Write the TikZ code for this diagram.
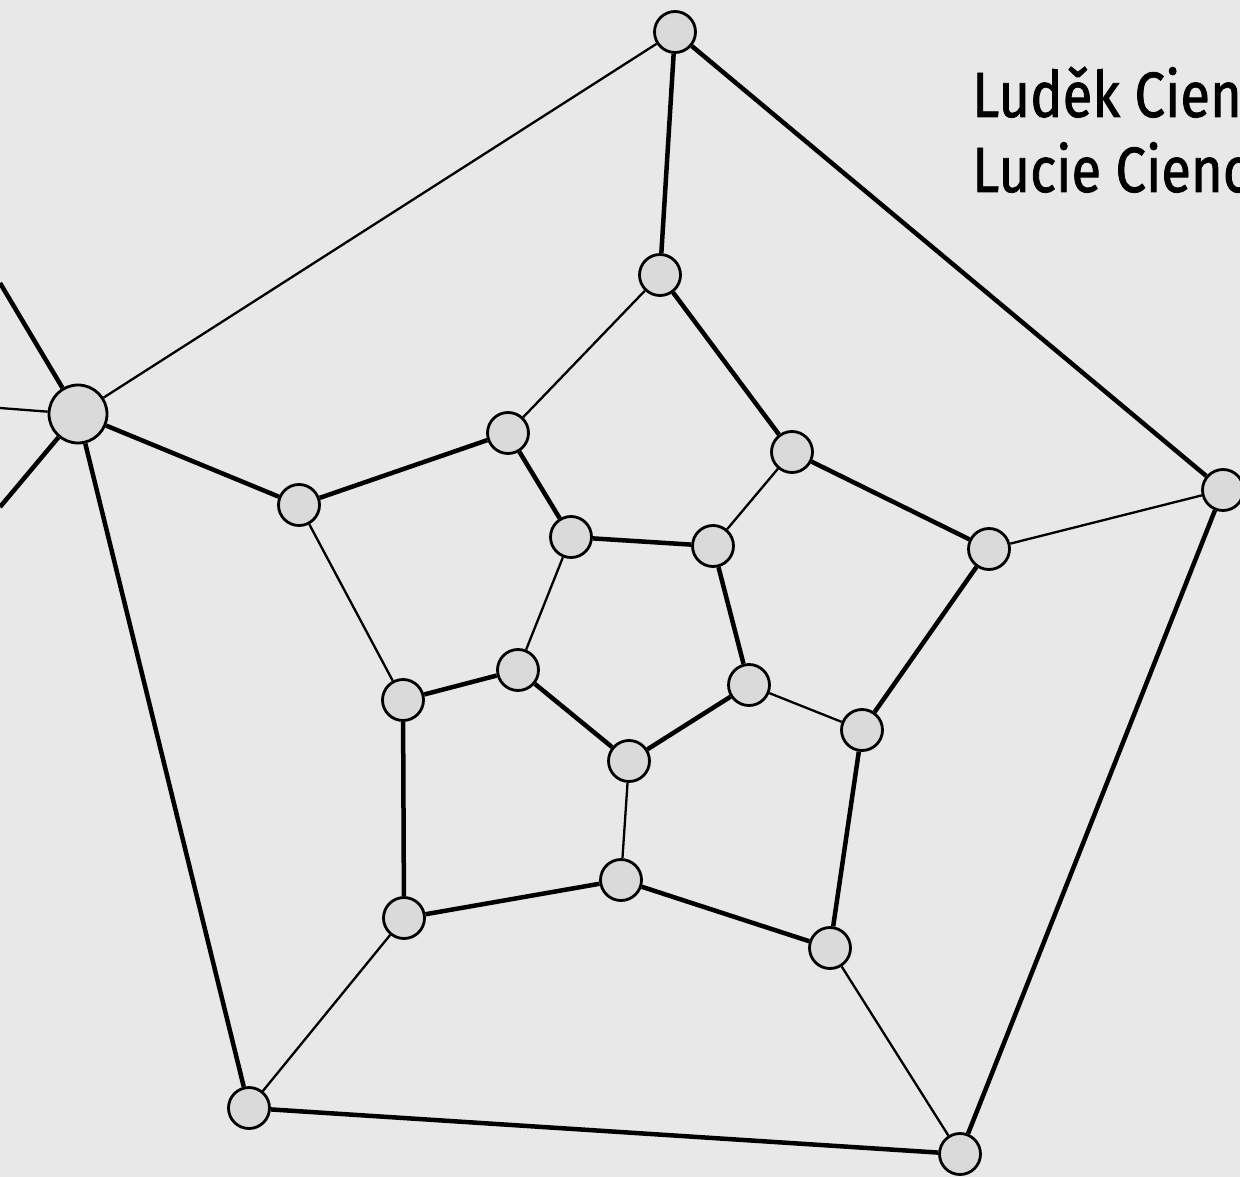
\documentclass[tikz,border=0pt]{standalone}
\usepackage{fontspec}
\newfontfamily\namefont[FakeStretch=0.85,FakeBold=1.2]{Fira Sans}
\definecolor{bg}{HTML}{E8E8E8}
\definecolor{nodefill}{HTML}{DADADA}
\pgfdeclarelayer{bglayer}
\pgfdeclarelayer{edgelayer}
\pgfsetlayers{bglayer,edgelayer,main}
\begin{document}
\begin{tikzpicture}[x=1pt,y=-1pt,
  vtx/.style={circle,draw=black,line width=2.8pt,fill=nodefill,minimum size=41pt,inner sep=0pt},
  bigvtx/.style={vtx,minimum size=58pt},
  thickedge/.style={line width=4.5pt},
  thinedge/.style={line width=2.3pt},
  namestyle/.style={anchor=base west,inner sep=0pt,font=\namefont\fontsize{64}{75}\selectfont}]
\useasboundingbox (0,0) rectangle (1240,1177);
\begin{pgfonlayer}{bglayer}
\fill[bg] (0,0) rectangle (1240,1177);
\end{pgfonlayer}
\clip (0,0) rectangle (1240,1177);
% outer pentagon
\node[vtx] (O1) at (675,32) {};
\node[vtx] (O2) at (1223,490) {};
\node[vtx] (O3) at (960,1154) {};
\node[vtx] (O4) at (249,1108) {};
\node[bigvtx] (O5) at (78,414) {};
% middle ring
\node[vtx] (A1) at (660,275) {};
\node[vtx] (A2) at (792,452) {};
\node[vtx] (A3) at (989,549) {};
\node[vtx] (A4) at (862,730) {};
\node[vtx] (A5) at (830,948) {};
\node[vtx] (A6) at (621,880) {};
\node[vtx] (A7) at (404,918) {};
\node[vtx] (A8) at (403,700) {};
\node[vtx] (A9) at (299,505) {};
\node[vtx] (A10) at (508,433) {};
% inner pentagon
\node[vtx] (I1) at (571,537) {};
\node[vtx] (I2) at (713,546) {};
\node[vtx] (I3) at (749,685) {};
\node[vtx] (I4) at (629,761) {};
\node[vtx] (I5) at (518,670) {};
% free ends on the left
\coordinate (L1) at (0,283);
\coordinate (L2) at (0,408);
\coordinate (L3) at (0,507);
\begin{pgfonlayer}{edgelayer}
\draw[thickedge] (O1) -- (O2);
\draw[thickedge] (O2) -- (O3);
\draw[thickedge] (O3) -- (O4);
\draw[thickedge] (O4) -- (O5);
\draw[thinedge] (O5) -- (O1);
\draw[thickedge] (O1) -- (A1);
\draw[thinedge] (O2) -- (A3);
\draw[thinedge] (O3) -- (A5);
\draw[thinedge] (O4) -- (A7);
\draw[thickedge] (O5) -- (A9);
\draw[thickedge] (O5) -- (L1);
\draw[thinedge] (O5) -- (L2);
\draw[thickedge] (O5) -- (L3);
\draw[thickedge] (A1) -- (A2);
\draw[thickedge] (A2) -- (A3);
\draw[thickedge] (A3) -- (A4);
\draw[thickedge] (A4) -- (A5);
\draw[thickedge] (A5) -- (A6);
\draw[thickedge] (A6) -- (A7);
\draw[thickedge] (A7) -- (A8);
\draw[thinedge] (A8) -- (A9);
\draw[thickedge] (A9) -- (A10);
\draw[thinedge] (A10) -- (A1);
\draw[thickedge] (A10) -- (I1);
\draw[thinedge] (A2) -- (I2);
\draw[thinedge] (A4) -- (I3);
\draw[thinedge] (A6) -- (I4);
\draw[thickedge] (A8) -- (I5);
\draw[thickedge] (I1) -- (I2);
\draw[thickedge] (I2) -- (I3);
\draw[thickedge] (I3) -- (I4);
\draw[thickedge] (I4) -- (I5);
\draw[thinedge] (I5) -- (I1);
\end{pgfonlayer}
\node[namestyle] (name1) at (972,117) {Luděk Cien};
\node[namestyle] (name2) at (972,192) {Lucie Cienc};
\end{tikzpicture}
\end{document}
